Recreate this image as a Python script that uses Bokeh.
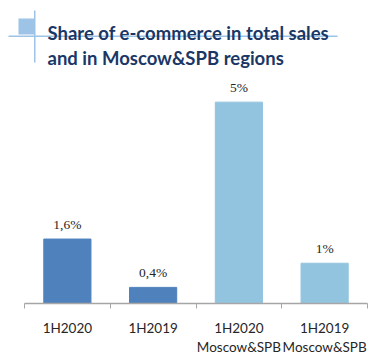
from bokeh.plotting import figure
from bokeh.layouts import column
from bokeh.models import (ColumnDataSource, Range1d, FixedTicker, LabelSet, Label,
                          BoxAnnotation)
from bokeh.embed import file_html
from bokeh.resources import INLINE

# ---- data ----
categories = ["1H2020", "1H2019", "1H2020\nMoscow&SPB", "1H2019\nMoscow&SPB"]
values = [1.6, 0.4, 5.0, 1.0]
value_labels = ["1,6%", "0,4%", "5%", "1%"]
colors = ["#4f81bd", "#4f81bd", "#93c4df", "#93c4df"]
title_lines = ["Share of e-commerce in total sales", "and in Moscow&SPB regions"]

# ---- title figure ----
t = figure(width=385, height=70, output_backend="svg", toolbar_location=None,
           x_range=Range1d(0, 1), y_range=Range1d(0, 1),
           x_axis_location=None, y_axis_location=None, min_border=0)
t.outline_line_color = None
t.grid.visible = False
t.frame_align = False

deco = "#9dc3e6"
def sbox(l, r, b, tp):
    return BoxAnnotation(left=l, right=r, bottom=b, top=tp, left_units="screen",
                         right_units="screen", bottom_units="screen", top_units="screen",
                         fill_color=deco, fill_alpha=1, line_color=None)
t.add_layout(sbox(18, 34, 36, 52))
t.add_layout(sbox(8, 337, 33.5, 35))
t.add_layout(sbox(33.5, 35, 8, 60))

for i, line in enumerate(title_lines):
    t.add_layout(Label(x=47, y=38 - 25 * i, x_units="screen", y_units="screen", text=line,
                       text_font="Lato", text_font_style="bold", text_font_size="18.5px",
                       text_color="#1a3766", text_baseline="alphabetic"))

# ---- chart ----
xs = [i + 0.5 for i in range(len(categories))]
source = ColumnDataSource(dict(x=xs, top=values, lab=value_labels, color=colors))

p = figure(width=385, height=287, output_backend="svg", toolbar_location=None,
           x_range=Range1d(0, len(categories)), y_range=Range1d(0, 5.537),
           y_axis_location=None, min_border_left=24, min_border_right=18,
           min_border_top=10, min_border_bottom=50)
p.outline_line_color = None
p.grid.visible = False
p.frame_align = False

p.vbar(x="x", top="top", width=0.55, color="color", source=source)

labels = LabelSet(x="x", y="top", text="lab", source=source, text_align="center",
                  text_baseline="bottom", y_offset=7, text_font="Lato",
                  text_font_size="13.5px", text_color="#262626")
p.add_layout(labels)

ax = p.xaxis[0]
ax.ticker = FixedTicker(ticks=xs, minor_ticks=list(range(len(categories) + 1)))
ax.major_label_overrides = {x: c for x, c in zip(xs, categories)}
ax.major_tick_line_color = None
ax.minor_tick_line_color = "#a6a6a6"
ax.minor_tick_out = 5
ax.minor_tick_in = 0
ax.axis_line_color = "#a6a6a6"
ax.axis_line_width = 1.5
ax.major_label_text_font = "Lato"
ax.major_label_text_font_size = "13.5px"
ax.major_label_text_color = "#262626"
ax.major_label_standoff = 10

layout = column(t, p, spacing=0)
open("out.html", "w").write(file_html(layout, INLINE))
